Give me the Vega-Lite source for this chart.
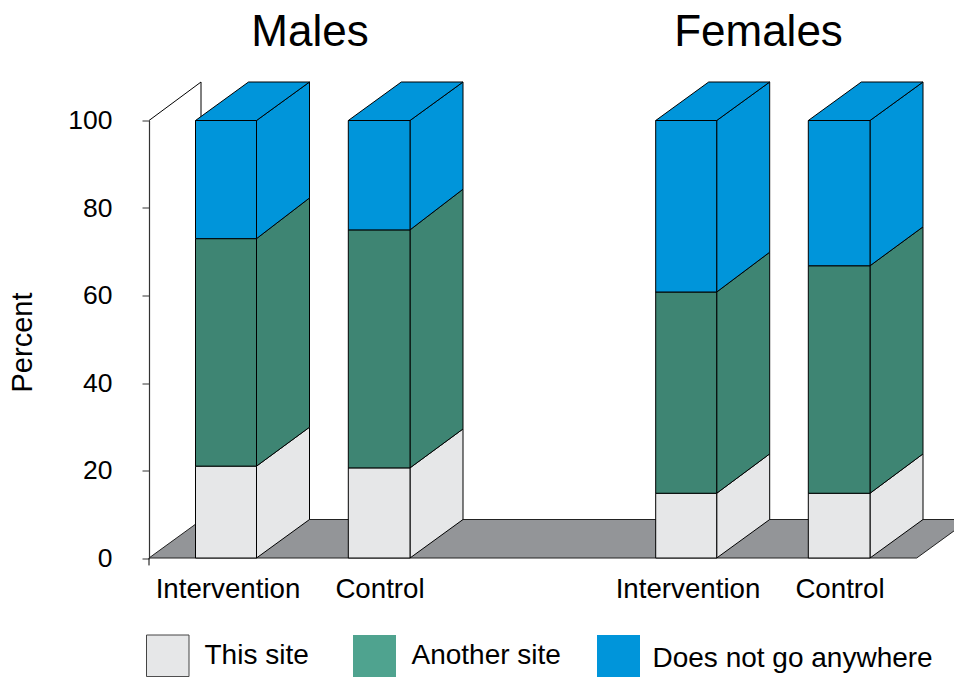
{
"$schema":"https://vega.github.io/schema/vega-lite/v6.json",
"width":805,"height":437.5,
"autosize":{"type":"none"},
"padding":{"left":149,"top":120.5,"right":0,"bottom":119},
"background":"white",
"config":{"view":{"stroke":null},"font":"Liberation Sans"},
"datasets":{
"bars":[
{"sex":"Males","arm":"Intervention","category":"This site","x0":46.5,"x1":107.5,"low":0,"high":21},
{"sex":"Males","arm":"Intervention","category":"Another site","x0":46.5,"x1":107.5,"low":21,"high":73},
{"sex":"Males","arm":"Intervention","category":"Does not go anywhere","x0":46.5,"x1":107.5,"low":73,"high":100},
{"sex":"Males","arm":"Control","category":"This site","x0":199.3,"x1":261,"low":0,"high":20.6},
{"sex":"Males","arm":"Control","category":"Another site","x0":199.3,"x1":261,"low":20.6,"high":75},
{"sex":"Males","arm":"Control","category":"Does not go anywhere","x0":199.3,"x1":261,"low":75,"high":100},
{"sex":"Females","arm":"Intervention","category":"This site","x0":506.7,"x1":567.7,"low":0,"high":14.8},
{"sex":"Females","arm":"Intervention","category":"Another site","x0":506.7,"x1":567.7,"low":14.8,"high":60.8},
{"sex":"Females","arm":"Intervention","category":"Does not go anywhere","x0":506.7,"x1":567.7,"low":60.8,"high":100},
{"sex":"Females","arm":"Control","category":"This site","x0":659.3,"x1":721,"low":0,"high":14.8},
{"sex":"Females","arm":"Control","category":"Another site","x0":659.3,"x1":721,"low":14.8,"high":66.8},
{"sex":"Females","arm":"Control","category":"Does not go anywhere","x0":659.3,"x1":721,"low":66.8,"high":100}
],
"faces":[
{"face":"MI1s","category":"This site","i":0,"x":107.5,"y":0},{"face":"MI1s","category":"This site","i":1,"x":107.5,"y":21},{"face":"MI1s","category":"This site","i":2,"x":160.5,"y":29.9},{"face":"MI1s","category":"This site","i":3,"x":160.5,"y":8.8},{"face":"MI1s","category":"This site","i":4,"x":107.5,"y":0},
{"face":"MI2s","category":"Another site","i":0,"x":107.5,"y":21},{"face":"MI2s","category":"Another site","i":1,"x":107.5,"y":73},{"face":"MI2s","category":"Another site","i":2,"x":160.5,"y":82.3},{"face":"MI2s","category":"Another site","i":3,"x":160.5,"y":29.9},{"face":"MI2s","category":"Another site","i":4,"x":107.5,"y":21},
{"face":"MI3s","category":"Does not go anywhere","i":0,"x":107.5,"y":73},{"face":"MI3s","category":"Does not go anywhere","i":1,"x":107.5,"y":100},{"face":"MI3s","category":"Does not go anywhere","i":2,"x":160.5,"y":108.8},{"face":"MI3s","category":"Does not go anywhere","i":3,"x":160.5,"y":82.3},{"face":"MI3s","category":"Does not go anywhere","i":4,"x":107.5,"y":73},
{"face":"MIt","category":"Does not go anywhere","i":0,"x":46.5,"y":100},{"face":"MIt","category":"Does not go anywhere","i":1,"x":107.5,"y":100},{"face":"MIt","category":"Does not go anywhere","i":2,"x":160.5,"y":108.8},{"face":"MIt","category":"Does not go anywhere","i":3,"x":99.5,"y":108.8},{"face":"MIt","category":"Does not go anywhere","i":4,"x":46.5,"y":100},
{"face":"MC1s","category":"This site","i":0,"x":261,"y":0},{"face":"MC1s","category":"This site","i":1,"x":261,"y":20.6},{"face":"MC1s","category":"This site","i":2,"x":314,"y":29.5},{"face":"MC1s","category":"This site","i":3,"x":314,"y":8.8},{"face":"MC1s","category":"This site","i":4,"x":261,"y":0},
{"face":"MC2s","category":"Another site","i":0,"x":261,"y":20.6},{"face":"MC2s","category":"Another site","i":1,"x":261,"y":75},{"face":"MC2s","category":"Another site","i":2,"x":314,"y":84.3},{"face":"MC2s","category":"Another site","i":3,"x":314,"y":29.5},{"face":"MC2s","category":"Another site","i":4,"x":261,"y":20.6},
{"face":"MC3s","category":"Does not go anywhere","i":0,"x":261,"y":75},{"face":"MC3s","category":"Does not go anywhere","i":1,"x":261,"y":100},{"face":"MC3s","category":"Does not go anywhere","i":2,"x":314,"y":108.8},{"face":"MC3s","category":"Does not go anywhere","i":3,"x":314,"y":84.3},{"face":"MC3s","category":"Does not go anywhere","i":4,"x":261,"y":75},
{"face":"MCt","category":"Does not go anywhere","i":0,"x":199.3,"y":100},{"face":"MCt","category":"Does not go anywhere","i":1,"x":261,"y":100},{"face":"MCt","category":"Does not go anywhere","i":2,"x":314,"y":108.8},{"face":"MCt","category":"Does not go anywhere","i":3,"x":252.3,"y":108.8},{"face":"MCt","category":"Does not go anywhere","i":4,"x":199.3,"y":100},
{"face":"FI1s","category":"This site","i":0,"x":567.7,"y":0},{"face":"FI1s","category":"This site","i":1,"x":567.7,"y":14.8},{"face":"FI1s","category":"This site","i":2,"x":620.7,"y":23.8},{"face":"FI1s","category":"This site","i":3,"x":620.7,"y":8.8},{"face":"FI1s","category":"This site","i":4,"x":567.7,"y":0},
{"face":"FI2s","category":"Another site","i":0,"x":567.7,"y":14.8},{"face":"FI2s","category":"Another site","i":1,"x":567.7,"y":60.8},{"face":"FI2s","category":"Another site","i":2,"x":620.7,"y":69.9},{"face":"FI2s","category":"Another site","i":3,"x":620.7,"y":23.8},{"face":"FI2s","category":"Another site","i":4,"x":567.7,"y":14.8},
{"face":"FI3s","category":"Does not go anywhere","i":0,"x":567.7,"y":60.8},{"face":"FI3s","category":"Does not go anywhere","i":1,"x":567.7,"y":100},{"face":"FI3s","category":"Does not go anywhere","i":2,"x":620.7,"y":108.8},{"face":"FI3s","category":"Does not go anywhere","i":3,"x":620.7,"y":69.9},{"face":"FI3s","category":"Does not go anywhere","i":4,"x":567.7,"y":60.8},
{"face":"FIt","category":"Does not go anywhere","i":0,"x":506.7,"y":100},{"face":"FIt","category":"Does not go anywhere","i":1,"x":567.7,"y":100},{"face":"FIt","category":"Does not go anywhere","i":2,"x":620.7,"y":108.8},{"face":"FIt","category":"Does not go anywhere","i":3,"x":559.7,"y":108.8},{"face":"FIt","category":"Does not go anywhere","i":4,"x":506.7,"y":100},
{"face":"FC1s","category":"This site","i":0,"x":721,"y":0},{"face":"FC1s","category":"This site","i":1,"x":721,"y":14.8},{"face":"FC1s","category":"This site","i":2,"x":774,"y":23.8},{"face":"FC1s","category":"This site","i":3,"x":774,"y":8.8},{"face":"FC1s","category":"This site","i":4,"x":721,"y":0},
{"face":"FC2s","category":"Another site","i":0,"x":721,"y":14.8},{"face":"FC2s","category":"Another site","i":1,"x":721,"y":66.8},{"face":"FC2s","category":"Another site","i":2,"x":774,"y":75.7},{"face":"FC2s","category":"Another site","i":3,"x":774,"y":23.8},{"face":"FC2s","category":"Another site","i":4,"x":721,"y":14.8},
{"face":"FC3s","category":"Does not go anywhere","i":0,"x":721,"y":66.8},{"face":"FC3s","category":"Does not go anywhere","i":1,"x":721,"y":100},{"face":"FC3s","category":"Does not go anywhere","i":2,"x":774,"y":108.8},{"face":"FC3s","category":"Does not go anywhere","i":3,"x":774,"y":75.7},{"face":"FC3s","category":"Does not go anywhere","i":4,"x":721,"y":66.8},
{"face":"FCt","category":"Does not go anywhere","i":0,"x":659.3,"y":100},{"face":"FCt","category":"Does not go anywhere","i":1,"x":721,"y":100},{"face":"FCt","category":"Does not go anywhere","i":2,"x":774,"y":108.8},{"face":"FCt","category":"Does not go anywhere","i":3,"x":712.3,"y":108.8},{"face":"FCt","category":"Does not go anywhere","i":4,"x":659.3,"y":100}
],
"floor":[{"i":0,"x":0,"y":0},{"i":1,"x":53,"y":8.8},{"i":2,"x":820.7,"y":8.8},{"i":3,"x":767.7,"y":0},{"i":4,"x":0,"y":0}],
"wall":[{"part":"wall","i":0,"x":0,"y":100},{"part":"wall","i":1,"x":52,"y":108.8},{"part":"wall","i":2,"x":52,"y":8.8},{"part":"stub","i":0,"x":0,"y":0},{"part":"stub","i":1,"x":0,"y":-1.7}],
"titles":[{"text":"Males","x":161,"y":120},{"text":"Females","x":609.5,"y":120}],
"arms":[{"text":"Intervention","x":79,"y":-7.2},{"text":"Control","x":231,"y":-7.2},{"text":"Intervention","x":539,"y":-7.2},{"text":"Control","x":691,"y":-7.2}],
"legend":[
{"category":"This site","x0":-2.5,"x1":40,"lx":55.5},
{"category":"Another site","x0":204,"x1":247,"lx":262.5},
{"category":"Does not go anywhere","x0":448,"x1":491,"lx":503.5}
]
},
"layer":[
{"data":{"name":"wall"},"mark":{"type":"line","stroke":"black","strokeWidth":1,"clip":false},
"encoding":{"x":{"field":"x","type":"quantitative","scale":{"domain":[0,805],"nice":false},"axis":null},
"y":{"field":"y","type":"quantitative","scale":{"domain":[0,100],"nice":false},"axis":{"values":[0,20,40,60,80,100],"title":"Percent","titleFontSize":29,"titleFontWeight":"normal","titleColor":"black","titlePadding":30,"titleY":221.5,"labelFontSize":26.5,"labelColor":"black","labelPadding":30,"tickSize":7,"tickColor":"#333333","domainColor":"#333333","grid":false,"tickWidth":1,"domainWidth":1.2}},
"detail":{"field":"part"},"order":{"field":"i"}}},
{"data":{"name":"floor"},"mark":{"type":"line","fill":"#939598","stroke":"#222222","strokeWidth":1},
"encoding":{"x":{"field":"x","type":"quantitative"},"y":{"field":"y","type":"quantitative"},"order":{"field":"i"}}},
{"data":{"name":"faces"},"mark":{"type":"line","stroke":"black","strokeWidth":1},
"encoding":{"x":{"field":"x","type":"quantitative"},"y":{"field":"y","type":"quantitative"},"detail":{"field":"face"},"order":{"field":"i"},
"fill":{"field":"category","type":"nominal","legend":null,"scale":{"domain":["This site","Another site","Does not go anywhere"],"range":["#e6e7e8","#3e8573","#0095da"]}}}},
{"data":{"name":"bars"},"mark":{"type":"rect","stroke":"black","strokeWidth":1},
"encoding":{"x":{"field":"x0","type":"quantitative"},"x2":{"field":"x1"},"y":{"field":"low","type":"quantitative"},"y2":{"field":"high"},
"fill":{"field":"category","type":"nominal","legend":null,"scale":{"domain":["This site","Another site","Does not go anywhere"],"range":["#e6e7e8","#3e8573","#0095da"]}}}},
{"data":{"name":"titles"},"mark":{"type":"text","fontSize":44,"align":"center","baseline":"middle","color":"black"},
"encoding":{"x":{"field":"x","type":"quantitative"},"y":{"field":"y","type":"quantitative"},"text":{"field":"text"}}},
{"data":{"name":"arms"},"mark":{"type":"text","fontSize":27.7,"align":"center","baseline":"middle","color":"black"},
"encoding":{"x":{"field":"x","type":"quantitative"},"y":{"field":"y","type":"quantitative"},"text":{"field":"text"}}},
{"data":{"name":"legend"},"transform":[{"filter":"datum.category==='This site'"}],"mark":{"type":"rect","fill":"#e6e7e8","stroke":"#444444","strokeWidth":1},
"encoding":{"x":{"field":"x0","type":"quantitative"},"x2":{"field":"x1"},"y":{"datum":-17.6,"type":"quantitative"},"y2":{"datum":-27.1}}},
{"data":{"name":"legend"},"transform":[{"filter":"datum.category==='Another site'"}],"mark":{"type":"rect","fill":"#4fa38f"},
"encoding":{"x":{"field":"x0","type":"quantitative"},"x2":{"field":"x1"},"y":{"datum":-17.6,"type":"quantitative"},"y2":{"datum":-27.3}}},
{"data":{"name":"legend"},"transform":[{"filter":"datum.category==='Does not go anywhere'"}],"mark":{"type":"rect","fill":"#0095da"},
"encoding":{"x":{"field":"x0","type":"quantitative"},"x2":{"field":"x1"},"y":{"datum":-17.6,"type":"quantitative"},"y2":{"datum":-27.3}}},
{"data":{"name":"legend"},"transform":[{"filter":"datum.category!=='Does not go anywhere'"}],"mark":{"type":"text","fontSize":28,"align":"left","baseline":"middle","color":"black"},
"encoding":{"x":{"field":"lx","type":"quantitative"},"y":{"datum":-22.5,"type":"quantitative"},"text":{"field":"category"}}},
{"data":{"name":"legend"},"transform":[{"filter":"datum.category==='Does not go anywhere'"}],"mark":{"type":"text","fontSize":28,"align":"left","baseline":"middle","color":"black"},
"encoding":{"x":{"field":"lx","type":"quantitative"},"y":{"datum":-23,"type":"quantitative"},"text":{"field":"category"}}}
]
}
